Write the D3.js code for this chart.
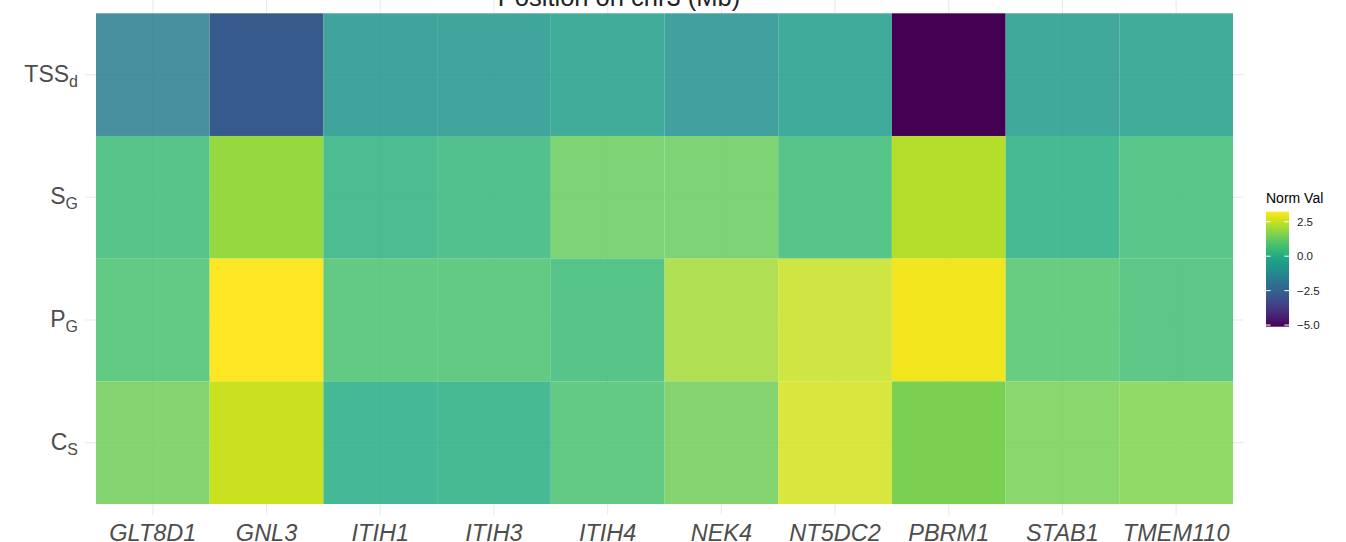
<!DOCTYPE html>
<html>
<head>
<meta charset="utf-8">
<script src="https://cdn.jsdelivr.net/npm/d3@7"></script>
<style>
  html, body { margin: 0; padding: 0; background: #fff; }
  svg { display: block; font-family: "Liberation Sans", Arial, Helvetica, sans-serif; }
</style>
</head>
<body>
<svg id="chart" width="1346" height="542"></svg>
<script>
// ---- data ----
const genes = ["GLT8D1", "GNL3", "ITIH1", "ITIH3", "ITIH4", "NEK4", "NT5DC2", "PBRM1", "STAB1", "TMEM110"];
const rows = ["TSS_d", "S_G", "P_G", "C_S"];
const rowMain = ["TSS", "S", "P", "C"];
const rowSub = ["d", "G", "G", "S"];
const valTSS = [-1.6, -2.8, -0.8, -0.7, -0.45, -1.0, -0.55, -5.12, -0.6, -0.45];
const valSG  = [0.55, 1.9, 0.22, 0.4, 1.3, 1.3, 0.55, 2.3, 0.12, 0.62];
const valPG  = [0.8, 3.23, 0.8, 0.8, 0.55, 2.1, 2.5, 3.06, 0.9, 0.66];
const valCS  = [1.4, 2.56, 0.0, 0.12, 0.8, 1.4, 2.65, 1.55, 1.5, 1.6];
const legendTicks = [2.5, 0.0, -2.5, -5.0];
const titleText = "Position on chr3 (Mb)";
const legendTitle = "Norm Val";

// style: overlapping tiles in GNL3 / PBRM1 columns render fully opaque
const opaqueGenes = new Set(["GNL3", "PBRM1"]);

const series = [valTSS, valSG, valPG, valCS];
const cells = [];
rows.forEach((r, i) => genes.forEach((g, j) => cells.push({row: r, gene: g, value: series[i][j]})));

// ---- layout ----
const svg = d3.select("#chart");
const tileLeft = 96, tileRight = 1233, tileTop = 13.3, tileBottom = 504;
const panelLeft = 85, panelRight = 1244, panelTop = 0, panelBottom = 515;

const x = d3.scaleBand().domain(genes).range([tileLeft, tileRight]).padding(0);
const y = d3.scaleBand().domain(rows).range([tileTop, tileBottom]).padding(0);
const ext = d3.extent(cells, d => d.value);
const color = d3.scaleSequential(d3.interpolateViridis).domain(ext);

// grid
const grid = svg.append("g");
grid.selectAll("line.v").data(genes).join("line")
  .attr("x1", d => x(d) + x.bandwidth() / 2).attr("x2", d => x(d) + x.bandwidth() / 2)
  .attr("y1", panelTop).attr("y2", panelBottom)
  .attr("stroke", "#ebebeb").attr("stroke-width", 1.1);
grid.selectAll("line.h").data(rows).join("line")
  .attr("y1", d => y(d) + y.bandwidth() / 2).attr("y2", d => y(d) + y.bandwidth() / 2)
  .attr("x1", panelLeft).attr("x2", panelRight)
  .attr("stroke", "#ebebeb").attr("stroke-width", 1.1);

// tiles
svg.append("g").selectAll("rect").data(cells).join("rect")
  .attr("x", d => x(d.gene)).attr("y", d => y(d.row))
  .attr("width", x.bandwidth()).attr("height", y.bandwidth())
  .attr("fill", d => color(d.value))
  .attr("fill-opacity", d => opaqueGenes.has(d.gene) ? 1 : 0.85);

// title (top, partly cut off)
svg.append("text").attr("x", 619).attr("y", 6)
  .attr("text-anchor", "middle").attr("font-size", 25.5).attr("fill", "#222")
  .text(titleText);

// x axis labels
const xAxis = d3.axisBottom(x).tickSize(0).tickPadding(0);
const gx = svg.append("g").attr("transform", `translate(0, ${tileBottom})`).call(xAxis);
gx.select(".domain").remove();
gx.selectAll("text")
  .attr("font-size", 23.5).attr("font-style", "italic").attr("fill", "#4d4d4d")
  .attr("font-family", "'Liberation Sans', Arial, sans-serif")
  .attr("dy", 0).attr("y", 36.5);

// y axis labels with subscripts
const gy = svg.append("g");
rows.forEach((r, i) => {
  const t = gy.append("text")
    .attr("x", 78).attr("y", y(r) + y.bandwidth() / 2 + 7)
    .attr("text-anchor", "end").attr("font-size", 23).attr("fill", "#4d4d4d");
  t.append("tspan").text(rowMain[i]);
  t.append("tspan").attr("font-size", 16).attr("dy", 5).text(rowSub[i]);
});

// legend
const legX = 1266, legW = 23, legTop = 211.7, legBottom = 326.7;
const defs = svg.append("defs");
const grad = defs.append("linearGradient").attr("id", "lg")
  .attr("x1", "0%").attr("y1", "100%").attr("x2", "0%").attr("y2", "0%");
d3.range(0, 1.0001, 0.05).forEach(t => {
  grad.append("stop").attr("offset", (t * 100) + "%")
    .attr("stop-color", color(ext[0] + t * (ext[1] - ext[0])));
});
svg.append("rect").attr("x", legX).attr("y", legTop).attr("width", legW)
  .attr("height", legBottom - legTop).attr("fill", "url(#lg)");
const ly = d3.scaleLinear().domain(ext).range([legBottom, legTop]);
const lg = svg.append("g");
legendTicks.forEach(v => {
  lg.append("line").attr("x1", legX).attr("x2", legX + 4.6)
    .attr("y1", ly(v)).attr("y2", ly(v)).attr("stroke", "#fff").attr("stroke-width", 1);
  lg.append("line").attr("x1", legX + legW - 4.6).attr("x2", legX + legW)
    .attr("y1", ly(v)).attr("y2", ly(v)).attr("stroke", "#fff").attr("stroke-width", 1);
  lg.append("text").attr("x", 1297).attr("y", ly(v) + 4.2)
    .attr("font-size", 11.5).attr("fill", "#222").text(d3.format(".1f")(v));
});
svg.append("text").attr("x", legX).attr("y", 203)
  .attr("font-size", 14).attr("fill", "#000").text(legendTitle);
</script>
</body>
</html>
